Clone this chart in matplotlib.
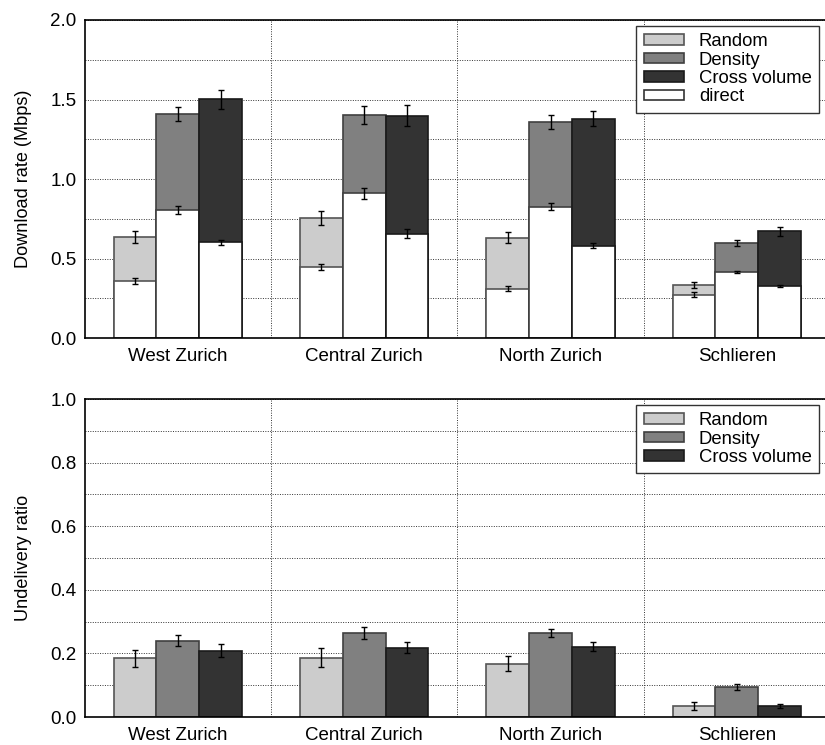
import numpy as np
import matplotlib
matplotlib.use("Agg")
import matplotlib.pyplot as plt

plt.rcParams['font.family'] = ['Liberation Sans', 'DejaVu Sans']

regions = ["West Zurich", "Central Zurich", "North Zurich", "Schlieren"]
methods = ["Random", "Density", "Cross volume"]
colors = ["#cccccc", "#808080", "#333333"]
edges = ["#555555", "#404040", "#1a1a1a"]

# download rate: total (stacked top) and direct part, with error half-widths
rate_total = [[0.636, 0.756, 0.632, 0.334],
              [1.407, 1.402, 1.358, 0.598],
              [1.501, 1.398, 1.379, 0.670]]
rate_total_err = [[0.038, 0.044, 0.037, 0.017],
                  [0.043, 0.057, 0.046, 0.020],
                  [0.059, 0.066, 0.048, 0.028]]
rate_direct = [[0.359, 0.447, 0.311, 0.273],
               [0.806, 0.909, 0.825, 0.414],
               [0.601, 0.657, 0.579, 0.326]]
rate_direct_err = [[0.021, 0.021, 0.015, 0.014],
                   [0.024, 0.034, 0.022, 0.008],
                   [0.017, 0.027, 0.016, 0.008]]

# undelivery ratio
undeliv = [[0.184, 0.187, 0.168, 0.034],
           [0.240, 0.263, 0.265, 0.095],
           [0.208, 0.218, 0.221, 0.035]]
undeliv_err = [[0.027, 0.029, 0.024, 0.012],
               [0.018, 0.019, 0.013, 0.010],
               [0.020, 0.018, 0.014, 0.007]]

W, H = 825, 745
fig = plt.figure(figsize=(W / 100, H / 100), dpi=100)
left, right = 84.7 / W, 830 / W
ax1 = fig.add_axes([left, 1 - 338 / H, right - left, (338 - 20) / H])
ax2 = fig.add_axes([left, 1 - 717 / H, right - left, (717 - 399) / H])

x = np.arange(len(regions))
bw = 0.23
offs = [-bw, 0, bw]
ekw = dict(ecolor="black", elinewidth=1, capsize=2.5, capthick=1, fmt="none")


def style(ax, ymax, major, minor, ylabel):
    ax.set_xlim(-0.5, len(regions) - 0.5)
    ax.set_ylim(0, ymax)
    ax.set_yticks(np.arange(0, ymax + 1e-9, major))
    ax.set_yticks(np.arange(0, ymax + 1e-9, minor), minor=True)
    ax.set_xticks(x)
    ax.set_xticklabels(regions, fontsize=13.5)
    ax.set_xticks(np.arange(0.5, len(regions) - 0.5), minor=True)
    gkw = dict(linestyle=(0, (1, 1.5)), color="#333333", linewidth=0.7)
    ax.yaxis.grid(True, which="both", **gkw)
    ax.xaxis.grid(True, which="minor", **gkw)
    ax.set_axisbelow(True)
    ax.tick_params(which="both", length=0)
    ax.tick_params(axis="x", pad=7.5)
    ax.tick_params(axis="y", pad=6, labelsize=13.5)
    ax.set_ylabel(ylabel, fontsize=13.1, labelpad=13)
    ax.yaxis.set_major_formatter(matplotlib.ticker.FormatStrFormatter("%.1f"))
    for s in ax.spines.values():
        s.set_linewidth(1.2)


# top chart: stacked bars
handles = []
for i in range(3):
    h = ax1.bar(x + offs[i], rate_total[i], bw, color=colors[i], edgecolor=edges[i], linewidth=1.2, label=methods[i])
    handles.append(h)
    ax1.bar(x + offs[i], rate_direct[i], bw, color="white", edgecolor=edges[i], linewidth=1.2)
    ax1.errorbar(x + offs[i], rate_total[i], yerr=rate_total_err[i], **ekw)
    ax1.errorbar(x + offs[i], rate_direct[i], yerr=rate_direct_err[i], **ekw)
hd = ax1.bar([0], [0], 0, color="white", edgecolor="#333333", linewidth=1.2, label="direct")
handles.append(hd)
style(ax1, 2.0, 0.5, 0.25, "Download rate (Mbps)")

# bottom chart
for i in range(3):
    ax2.bar(x + offs[i], undeliv[i], bw, color=colors[i], edgecolor=edges[i], linewidth=1.2, label=methods[i])
    ax2.errorbar(x + offs[i], undeliv[i], yerr=undeliv_err[i], **ekw)
style(ax2, 1.0, 0.2, 0.1, "Undelivery ratio")

leg_kw = dict(loc="upper right", bbox_to_anchor=(0.985, 0.981), fontsize=13.3, fancybox=False,
              framealpha=1, edgecolor="#333333", handlelength=2.2, handleheight=0.5,
              labelspacing=0.08, borderpad=0.38, handletextpad=0.8, borderaxespad=0)
l1 = ax1.legend(handles=handles, **leg_kw)
l2 = ax2.legend(**leg_kw)
for l in (l1, l2):
    l.get_frame().set_linewidth(1.0)

fig.savefig("out.png", dpi=100)
